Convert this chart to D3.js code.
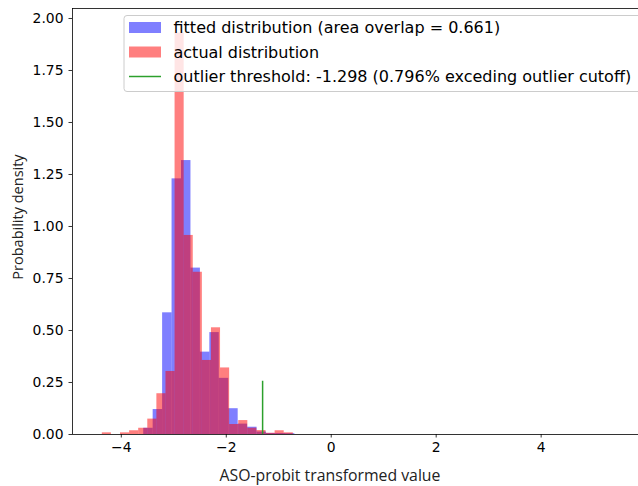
<!DOCTYPE html>
<html>
<head>
<meta charset="utf-8">
<script src="https://cdn.jsdelivr.net/npm/d3@7"></script>
<style>
  html, body { margin: 0; padding: 0; background: #ffffff; }
  svg { display: block; }
</style>
</head>
<body>
<div id="chart"></div>
<script>
// Histogram densities of the ASO-probit transformed values
const actualBinStart = -4.362;   // left edge of first "actual" bin
const actualBinWidth = 0.1733;
const actualDensity = [0.008, 0, 0.008, 0.018, 0.03, 0.074, 0.196, 0.303, 1.93, 0.957,
                       0.78, 0.356, 0.513, 0.32, 0.048, 0.067, 0.03, 0.019, 0.006, 0.018, 0.008];

const fittedBinStart = -3.573;   // left edge of first "fitted" bin
const fittedBinWidth = 0.18;
const fittedDensity = [0.03, 0.12, 0.585, 1.229, 1.317, 0.80, 0.396, 0.49, 0.27, 0.124,
                       0.05, 0.035, 0.012, 0.005, 0.005, 0.004];

const outlierThreshold = -1.298;
const outlierLineHeight = 0.256;

const xTicks = [-4, -2, 0, 2, 4];
const yTicks = [0, 0.25, 0.5, 0.75, 1.0, 1.25, 1.5, 1.75, 2.0];

const legendLabels = [
  "fitted distribution (area overlap = 0.661)",
  "actual distribution",
  "outlier threshold: -1.298 (0.796% exceding outlier cutoff)"
];

const W = 638, H = 486;
const plot = { left: 72, right: 728, top: 8, bottom: 434 };

const svg = d3.select("#chart").append("svg")
  .attr("width", W).attr("height", H);

const x = d3.scaleLinear().domain([-4.93, 7.57]).range([plot.left, plot.right]);
const y = d3.scaleLinear().domain([0, 2.048]).range([plot.bottom, plot.top]);

const toBins = (start, width, dens) =>
  dens.map((d, i) => ({ x0: start + i * width, x1: start + (i + 1) * width, v: d }));

const fittedBins = toBins(fittedBinStart, fittedBinWidth, fittedDensity);
const actualBins = toBins(actualBinStart, actualBinWidth, actualDensity);

const g = svg.append("g");

// fitted histogram (blue, half transparent)
g.selectAll("rect.fitted").data(fittedBins).join("rect")
  .attr("class", "fitted")
  .attr("x", d => x(d.x0))
  .attr("width", d => x(d.x1) - x(d.x0))
  .attr("y", d => y(d.v))
  .attr("height", d => y(0) - y(d.v))
  .attr("fill", "#0000ff").attr("fill-opacity", 0.5);

// actual histogram (red, half transparent)
g.selectAll("rect.actual").data(actualBins).join("rect")
  .attr("class", "actual")
  .attr("x", d => x(d.x0))
  .attr("width", d => x(d.x1) - x(d.x0))
  .attr("y", d => y(d.v))
  .attr("height", d => y(0) - y(d.v))
  .attr("fill", "#ff0000").attr("fill-opacity", 0.5);

// outlier threshold marker
g.append("line")
  .attr("x1", x(outlierThreshold)).attr("x2", x(outlierThreshold))
  .attr("y1", y(0)).attr("y2", y(outlierLineHeight))
  .attr("stroke", "#2ca02c").attr("stroke-width", 1.5);

// axes
const tickFont = "DejaVu Sans, sans-serif";
const xAxis = svg.append("g")
  .attr("transform", `translate(0,${plot.bottom})`)
  .call(d3.axisBottom(x).tickValues(xTicks).tickSize(3.5).tickPadding(5)
        .tickFormat(d => d < 0 ? "\u2212" + Math.abs(d) : String(d)));
xAxis.select(".domain").remove();
xAxis.selectAll("text").attr("font-family", tickFont).attr("font-size", 13.9).attr("fill", "#000");
xAxis.selectAll("line").attr("stroke", "#000").attr("stroke-width", 0.8);

const yAxis = svg.append("g")
  .attr("transform", `translate(${plot.left},0)`)
  .call(d3.axisLeft(y).tickValues(yTicks).tickSize(3.5).tickPadding(5)
        .tickFormat(d3.format(".2f")));
yAxis.select(".domain").remove();
yAxis.selectAll("text").attr("font-family", tickFont).attr("font-size", 13.9).attr("fill", "#000");
yAxis.selectAll("line").attr("stroke", "#000").attr("stroke-width", 0.8);

// spines
const spine = (x1, y1, x2, y2) => svg.append("line")
  .attr("x1", x1).attr("y1", y1).attr("x2", x2).attr("y2", y2)
  .attr("stroke", "#000").attr("stroke-width", 0.8).attr("shape-rendering", "crispEdges");
spine(plot.left, plot.top, plot.left, plot.bottom);
spine(plot.left, plot.bottom, plot.right, plot.bottom);
spine(plot.left, plot.top, plot.right, plot.top);

// axis titles
const labelFont = "Open Sans, sans-serif";
svg.append("text")
  .attr("x", 330).attr("y", 481)
  .attr("text-anchor", "middle")
  .attr("font-family", labelFont).attr("font-size", 15.8).attr("fill", "#222")
  .text("ASO-probit transformed value");
svg.append("text")
  .attr("transform", `translate(23,${(plot.top + plot.bottom) / 2 - 4}) rotate(-90)`)
  .attr("text-anchor", "middle")
  .attr("font-family", labelFont).attr("font-size", 14.5).attr("fill", "#222")
  .text("Probability density");

// legend
const leg = svg.append("g");
leg.append("rect")
  .attr("x", 124).attr("y", 15.5).attr("width", 560).attr("height", 76)
  .attr("rx", 3).attr("ry", 3)
  .attr("fill", "#ffffff").attr("fill-opacity", 0.8)
  .attr("stroke", "#cccccc").attr("stroke-width", 1);

const rowY = [27.5, 52, 76.5];
leg.append("rect").attr("x", 129).attr("y", rowY[0] - 5.5).attr("width", 32).attr("height", 11)
  .attr("fill", "#0000ff").attr("fill-opacity", 0.5);
leg.append("rect").attr("x", 129).attr("y", rowY[1] - 5.5).attr("width", 32).attr("height", 11)
  .attr("fill", "#ff0000").attr("fill-opacity", 0.5);
leg.append("line").attr("x1", 129).attr("x2", 161).attr("y1", rowY[2]).attr("y2", rowY[2])
  .attr("stroke", "#2ca02c").attr("stroke-width", 1.5);

leg.selectAll("text.lbl").data(legendLabels).join("text")
  .attr("class", "lbl")
  .attr("x", 173.5).attr("y", (d, i) => rowY[i] + 5.8)
  .attr("font-family", tickFont).attr("font-size", 16).attr("fill", "#000")
  .text(d => d);
</script>
</body>
</html>
